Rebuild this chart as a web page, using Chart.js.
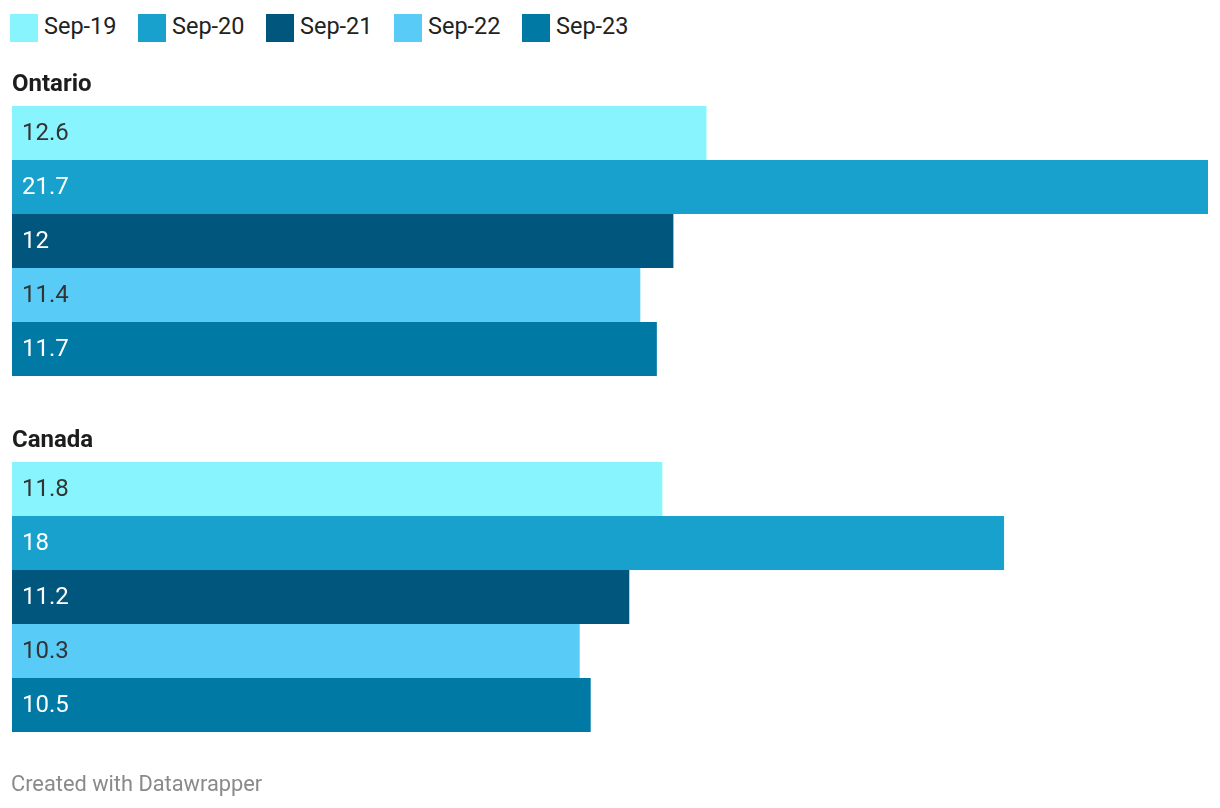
<!DOCTYPE html>
<html>
<head>
<meta charset="utf-8">
<script src="https://cdn.jsdelivr.net/npm/chart.js@4"></script>
<style>
  body { margin: 0; background: #fff; font-family: Roboto, sans-serif; }
  #legend { position: absolute; left: 10px; top: 14px; display: flex; }
  .item { width: 128px; display: flex; align-items: center; height: 28px; }
  .swatch { width: 28px; height: 28px; margin-right: 6px; flex: none; }
  .item span { font-size: 23.5px; color: #222; position: relative; top: -2px; white-space: nowrap; }
  #wrap { position: absolute; left: 0; top: 63px; width: 1220px; height: 712px; }
  #footer { position: absolute; left: 11px; top: 771px; font-size: 21.8px; color: #8a8a8a; }
</style>
</head>
<body>
<div id="legend"></div>
<div id="wrap"><canvas id="barChart"></canvas></div>
<div id="footer">Created with Datawrapper</div>
<script>
// regions and periods
const regions = ['Ontario', 'Canada'];
const periods = ['Sep-19', 'Sep-20', 'Sep-21', 'Sep-22', 'Sep-23'];

// values per period: [Ontario, Canada]
const sep19 = [12.6, 11.8];
const sep20 = [21.7, 18];
const sep21 = [12, 11.2];
const sep22 = [11.4, 10.3];
const sep23 = [11.7, 10.5];

const barColors = ['#88f4fe', '#18a1cd', '#00567d', '#58cbf7', '#0079a5'];
const labelColors = ['#333333', '#ffffff', '#ffffff', '#333333', '#ffffff'];

const seriesValues = [sep19, sep20, sep21, sep22, sep23];

// html legend
const legend = document.getElementById('legend');
periods.forEach(function(p, i) {
  const item = document.createElement('div');
  item.className = 'item';
  item.innerHTML = '<div class="swatch" style="background:' + barColors[i] + '"></div><span>' + p + '</span>';
  legend.appendChild(item);
});

// value labels inside the bars + region headings above each group
const barLabels = {
  id: 'barLabels',
  afterDatasetsDraw(chart) {
    const ctx = chart.ctx;
    const left = chart.chartArea.left;
    ctx.save();
    ctx.font = '24px Roboto';
    ctx.textBaseline = 'middle';
    ctx.textAlign = 'left';
    chart.data.datasets.forEach(function(ds, i) {
      const meta = chart.getDatasetMeta(i);
      meta.data.forEach(function(bar, j) {
        ctx.fillStyle = labelColors[i];
        ctx.fillText(String(ds.data[j]), left + 10, bar.y + 1);
      });
    });
    const first = chart.getDatasetMeta(0);
    ctx.font = 'bold 24px Roboto';
    ctx.fillStyle = '#1d1d1d';
    ctx.textBaseline = 'alphabetic';
    first.data.forEach(function(bar, j) {
      ctx.fillText(regions[j], left, bar.y - bar.height / 2 - 15);
    });
    ctx.restore();
  }
};

const ctx = document.getElementById('barChart');

const chart = new Chart(ctx, {
  type: 'bar',
  data: {
    labels: regions,
    datasets: periods.map(function(p, i) {
      return {
        label: p,
        data: seriesValues[i],
        backgroundColor: barColors[i],
        borderWidth: 0,
        categoryPercentage: 270 / 356,
        barPercentage: 1
      };
    })
  },
  options: {
    indexAxis: 'y',
    responsive: true,
    maintainAspectRatio: false,
    animation: false,
    layout: { padding: { left: 12, right: 12, top: 0, bottom: 0 } },
    scales: {
      x: { display: false, min: 0, max: 21.7 },
      y: { display: false }
    },
    plugins: {
      legend: { display: false },
      tooltip: { enabled: false }
    }
  },
  plugins: [barLabels]
});
</script>
</body>
</html>
